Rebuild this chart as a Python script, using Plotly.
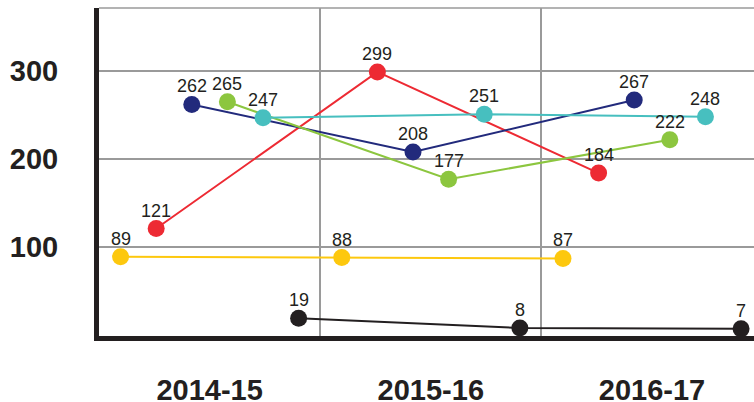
import plotly.graph_objects as go

categories = ["2014-15", "2015-16", "2016-17"]
series_names = ["Yellow", "Red", "Navy", "Green", "Cyan", "Black"]
yellow = [89, 88, 87]
red = [121, 299, 184]
navy = [262, 208, 267]
green = [265, 177, 222]
cyan = [247, 251, 248]
black = [19, 8, 7]
y_ticks = [100, 200, 300]

series_values = [yellow, red, navy, green, cyan, black]
colors = ["#fdc80e", "#ed2a33", "#222a7c", "#8cc63f", "#47bfbf", "#231f20"]

FONT = "Liberation Sans, Arial, sans-serif"
n = len(series_values)
step = 0.161
fig = go.Figure()
annotations = []
for i, (name, vals, col) in enumerate(zip(series_names, series_values, colors)):
    off = (i - (n - 1) / 2) * step
    xs = [k + off for k in range(len(categories))]
    fig.add_trace(go.Scatter(
        x=xs, y=vals, name=name, mode="lines+markers",
        line=dict(color=col, width=2),
        marker=dict(color=col, size=17),
        cliponaxis=False, showlegend=False, hoverinfo="skip",
    ))
    for x, v in zip(xs, vals):
        annotations.append(dict(
            x=x, y=v, text=str(v), showarrow=False,
            xanchor="center", yanchor="middle", yshift=18,
            font=dict(family=FONT, size=18, color="#231f20"),
        ))

fig.update_layout(
    width=754, height=402,
    margin=dict(l=99, r=0, t=8, b=66, autoexpand=False),
    paper_bgcolor="white", plot_bgcolor="white",
    showlegend=False,
    annotations=annotations,
    xaxis=dict(
        range=[-0.5, 2.461], automargin=False,
        tickvals=list(range(len(categories))), ticktext=categories,
        showgrid=False, zeroline=False,
        showline=True, linecolor="#231f20", linewidth=5,
        ticks="", ticklabelstandoff=24,
        tickfont=dict(family=FONT, size=29, color="#231f20", weight="bold"),
        minor=dict(tickvals=[0.5, 1.5], showgrid=True, gridcolor="#9a9a9a", gridwidth=1.5),
    ),
    yaxis=dict(
        range=[-1.1, 371.6], automargin=False,
        tickvals=y_ticks,
        showgrid=True, gridcolor="#9a9a9a", gridwidth=1.5,
        zeroline=False,
        showline=True, linecolor="#231f20", linewidth=5,
        ticks="", ticklabelstandoff=30,
        tickfont=dict(family=FONT, size=29, color="#231f20", weight="bold"),
    ),
    shapes=[dict(type="line", xref="paper", yref="paper", x0=0, x1=1, y0=1, y1=1,
                 line=dict(color="#9a9a9a", width=1.5), layer="below")],
)

fig.write_html("out.html", config={"displayModeBar": False},
               post_script="document.body.style.margin='0';document.body.style.overflow='hidden';")
